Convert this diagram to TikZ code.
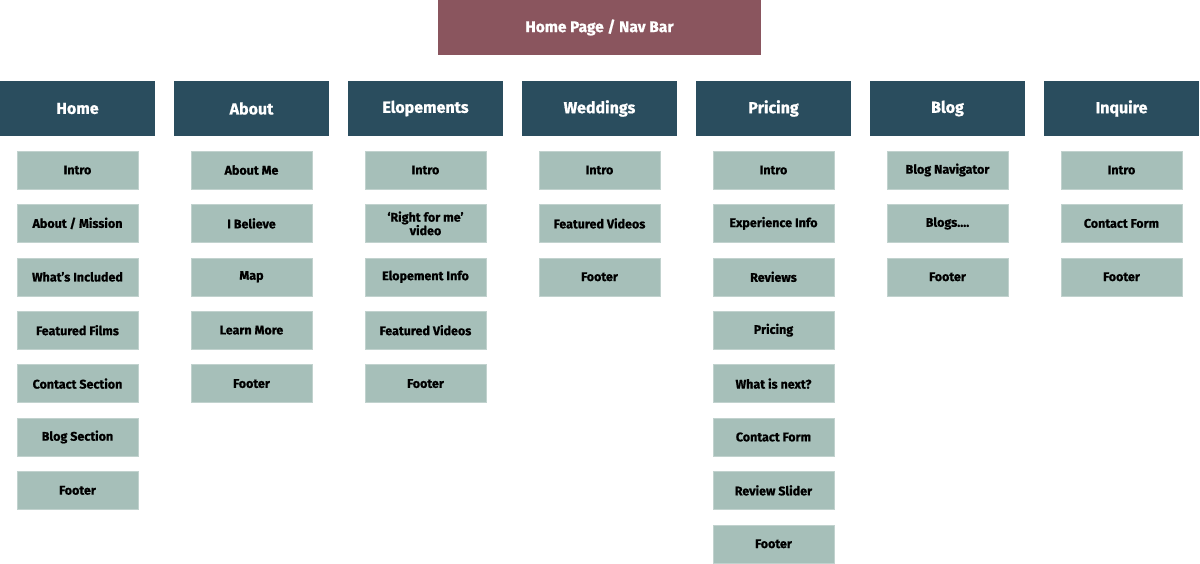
\documentclass[tikz,border=0pt]{standalone}
\usepackage{fontspec}
\setmainfont{Fira Sans}[BoldFeatures={FakeBold=0.8}]
\usetikzlibrary{positioning}

\definecolor{navred}{HTML}{8A555E}
\definecolor{pagehead}{HTML}{2A4D5E}
\definecolor{section}{HTML}{A6BFB9}

\tikzset{
  navbox/.style={fill=navred, text=white, inner sep=0pt,
    minimum width=323pt, minimum height=55pt,
    font=\bfseries\fontsize{15.5}{17}\selectfont},
  headbox/.style={fill=pagehead, text=white, inner sep=0pt,
    minimum width=155pt, minimum height=55pt,
    font=\bfseries\fontsize{16}{18}\selectfont},
  secbox/.style={fill=section, draw=section!70!white, inner sep=0pt,
    minimum width=121pt, minimum height=38pt, align=center,
    font=\bfseries\fontsize{12.5}{13.5}\selectfont}
}

\begin{document}
\begin{tikzpicture}[x=1pt, y=1pt]
\useasboundingbox (0,0) rectangle (1200,-563);

%nav bar
\node[navbox] (nav) at (599.5,-27.5) {Home Page / Nav Bar};

%page headers
\foreach \p [count=\i from 0] in {Home,About,Elopements,Weddings,Pricing,Blog,Inquire} {
\node[headbox] (head-\i) at (77.5+174*\i,-108.5) {\p};
}

%home
\foreach \s [count=\j from 0] in {Intro,About / Mission,What’s Included,Featured Films,Contact Section,Blog Section,Footer} {
\node[secbox] (sec-0-\j) at (77.5,-170-53.4*\j) {\s};
}

%about
\foreach \s [count=\j from 0] in {About Me,I Believe,Map,Learn More,Footer} {
\node[secbox] (sec-1-\j) at (251.5,-170-53.4*\j) {\s};
}

%elopements
\foreach \s [count=\j from 0] in {Intro,{‘Right for me’\\video},Elopement Info,Featured Videos,Footer} {
\node[secbox] (sec-2-\j) at (425.5,-170-53.4*\j) {\s};
}

%weddings
\foreach \s [count=\j from 0] in {Intro,Featured Videos,Footer} {
\node[secbox] (sec-3-\j) at (599.5,-170-53.4*\j) {\s};
}

%pricing
\foreach \s [count=\j from 0] in {Intro,Experience Info,Reviews,Pricing,What is next?,Contact Form,Review Slider,Footer} {
\node[secbox] (sec-4-\j) at (773.5,-170-53.4*\j) {\s};
}

%blog
\foreach \s [count=\j from 0] in {Blog Navigator,{Blogs{.}{.}{.}{.}},Footer} {
\node[secbox] (sec-5-\j) at (947.5,-170-53.4*\j) {\s};
}

%inquire
\foreach \s [count=\j from 0] in {Intro,Contact Form,Footer} {
\node[secbox] (sec-6-\j) at (1121.5,-170-53.4*\j) {\s};
}

\end{tikzpicture}
\end{document}
